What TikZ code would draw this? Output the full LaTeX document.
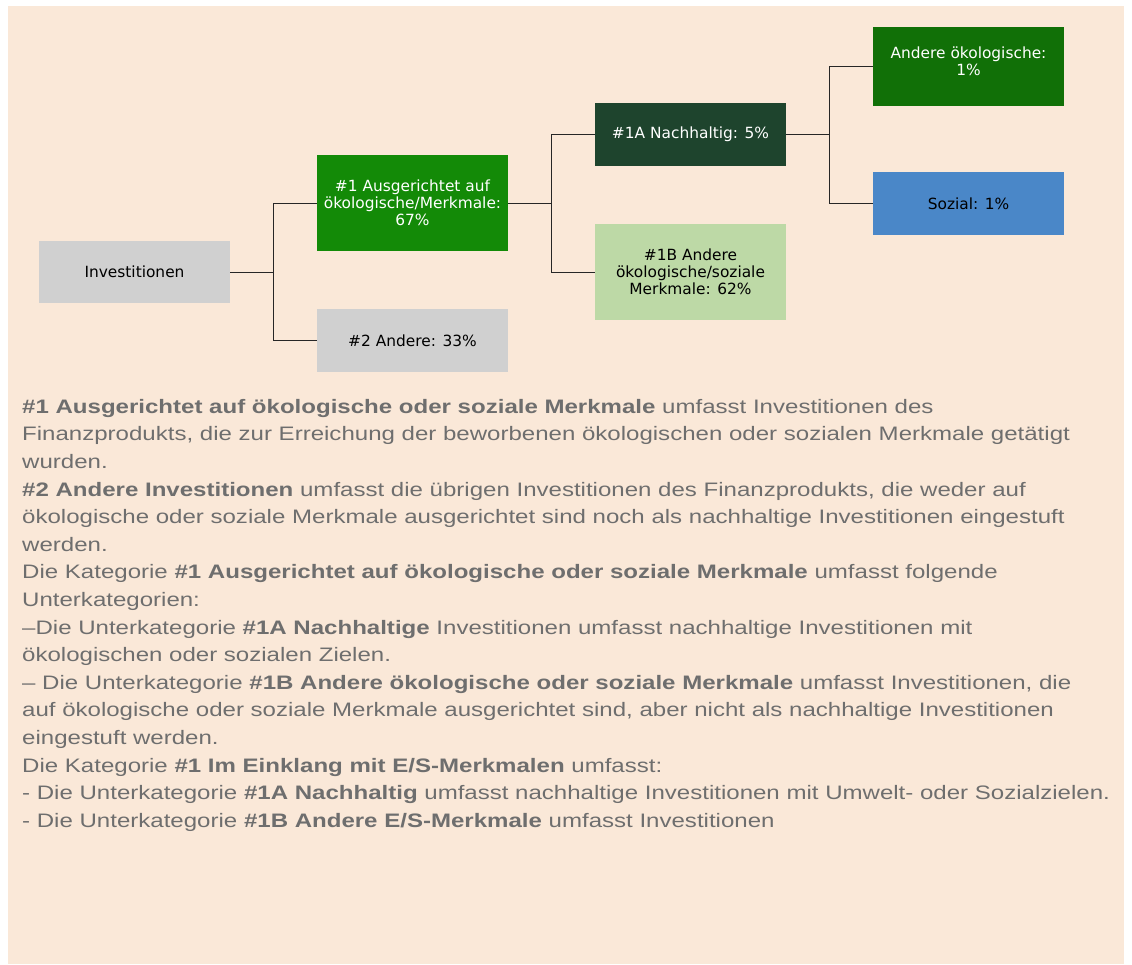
\documentclass[tikz,border=0pt]{standalone}
\usepackage{fontspec}
\setmainfont[FakeStretch=1.233]{Liberation Sans}
\newfontfamily\boxfont{DejaVu Sans}
\definecolor{bgc}{HTML}{FAE8D8}
\definecolor{grayc}{HTML}{D0D0D0}
\definecolor{greenA}{HTML}{138A07}
\definecolor{greenB}{HTML}{117007}
\definecolor{darkg}{HTML}{1E442D}
\definecolor{lightg}{HTML}{BDD9A6}
\definecolor{bluec}{HTML}{4A87C8}
\definecolor{txtc}{HTML}{6E6E6E}
\tikzset{
  box/.style={rectangle, inner sep=2pt, minimum width=191pt, align=center,
    font=\boxfont\fontsize{15.4}{17}\selectfont},
  conn/.style={draw=black!85, line width=0.9pt},
}
\begin{document}
\begin{tikzpicture}[x=1pt,y=-1pt]
\useasboundingbox (0,0) rectangle (1132,964);
\fill[white] (0,0) rectangle (1132,964);
\fill[bgc] (8,6) rectangle (1124,964);

\node[box, fill=grayc, minimum height=62pt] (inv) at (134.5,272) {Investitionen};
\node[box, fill=greenA, text=white, minimum height=96pt] (a1) at (412.5,203) {\#1 Ausgerichtet auf\\ökologische/Merkmale:\\67\%};
\node[box, fill=grayc, minimum height=63pt] (a2) at (412.5,340.5) {\#2 Andere: 33\%};
\node[box, fill=darkg, text=white, minimum height=63pt] (n1a) at (690.5,134.5) {\#1A Nachhaltig: 5\%};
\node[box, fill=lightg, minimum height=96pt] (n1b) at (690.5,272) {\#1B Andere\\ökologische/soziale\\Merkmale: 62\%};
\node[box, fill=greenB, minimum height=79pt] (ao) at (968.5,66.5) {};
\node[box, text=white, yshift=5pt] (aot) at (ao.center) {Andere ökologische:\\1\%};
\node[box, fill=bluec, minimum height=63pt] (soz) at (968.5,203.5) {Sozial: 1\%};

\draw[conn] (inv.east) -- ++(43,0) coordinate (j1) |- (a1.west);
\draw[conn] (j1) |- (a2.west);
\draw[conn] (a1.east) -- ++(43,0) coordinate (j2) |- (n1a.west);
\draw[conn] (j2) |- (n1b.west);
\draw[conn] (n1a.east) -- ++(43,0) coordinate (j3) |- (ao.west);
\draw[conn] (j3) |- (soz.west);

\node[anchor=north west, inner sep=0pt, align=left, text=txtc,
  font=\fontsize{19.5}{27.6}\selectfont] (body) at (22,399) {%
\textbf{\#1 Ausgerichtet auf ökologische oder soziale Merkmale} umfasst Investitionen des\\
Finanzprodukts, die zur Erreichung der beworbenen ökologischen oder sozialen Merkmale getätigt\\
wurden.\\
\textbf{\#2 Andere Investitionen} umfasst die übrigen Investitionen des Finanzprodukts, die weder auf\\
ökologische oder soziale Merkmale ausgerichtet sind noch als nachhaltige Investitionen eingestuft\\
werden.\\
Die Kategorie \textbf{\#1 Ausgerichtet auf ökologische oder soziale Merkmale} umfasst folgende\\
Unterkategorien:\\
–Die Unterkategorie \textbf{\#1A Nachhaltige} Investitionen umfasst nachhaltige Investitionen mit\\
ökologischen oder sozialen Zielen.\\
– Die Unterkategorie \textbf{\#1B Andere ökologische oder soziale Merkmale} umfasst Investitionen, die\\
auf ökologische oder soziale Merkmale ausgerichtet sind, aber nicht als nachhaltige Investitionen\\
eingestuft werden.\\
Die Kategorie \textbf{\#1 Im Einklang mit E/S-Merkmalen} umfasst:\\
- Die Unterkategorie \textbf{\#1A Nachhaltig} umfasst nachhaltige Investitionen mit Umwelt- oder Sozialzielen.\\
- Die Unterkategorie \textbf{\#1B Andere E/S-Merkmale} umfasst Investitionen};
\end{tikzpicture}
\end{document}
